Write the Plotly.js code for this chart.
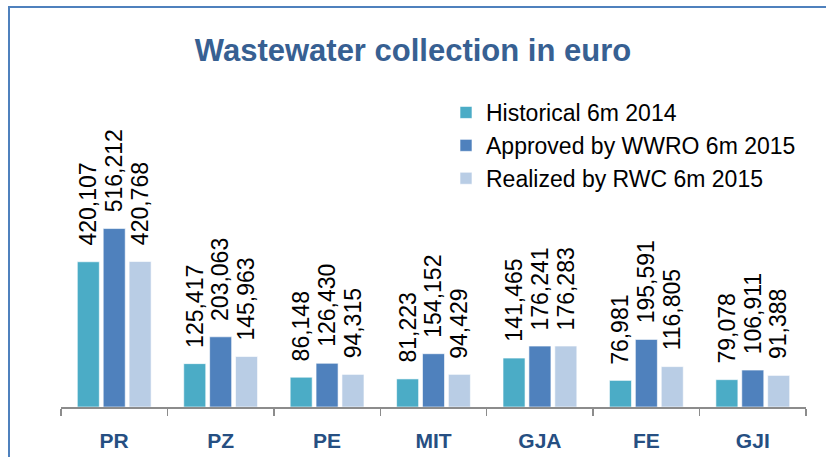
<!DOCTYPE html>
<html>
<head>
<meta charset="utf-8">
<script src="https://cdn.plot.ly/plotly-3.0.1.min.js"></script>
<style>html,body{margin:0;padding:0;background:#fff;}#chart{width:826px;height:457px;}</style>
</head>
<body>
<div id="chart"></div>
<script>
const categories = ["PR", "PZ", "PE", "MIT", "GJA", "FE", "GJI"];
const seriesNames = ["Historical 6m 2014", "Approved by WWRO 6m 2015", "Realized by RWC 6m 2015"];
const historical = [420107, 125417, 86148, 81223, 141465, 76981, 79078];
const approved = [516212, 203063, 126430, 154152, 176241, 195591, 106911];
const realized = [420768, 145963, 94315, 94429, 176283, 116805, 91388];

const seriesValues = [historical, approved, realized];
const colors = ["#4BACC6", "#4F81BD", "#B9CDE5"];

const W = 826, H = 457;
const margin = {l: 61, r: 20, t: 62, b: 50};
const plotW = W - margin.l - margin.r;
const plotH = H - margin.t - margin.b;
const px2x = p => (p - margin.l) / plotW;
const py2y = p => (H - margin.b - p) / plotH;

const bargap = 0.27;
const slot = (1 - bargap) / 3;

const traces = seriesValues.map((vals, k) => ({
  type: "bar",
  name: seriesNames[k],
  x: categories,
  y: vals,
  marker: {color: colors[k], line: {color: "rgba(255,255,255,0.6)", width: 1}},
  hoverinfo: "skip",
  legendgroup: "g" + k
}));

const fmt = v => v.toLocaleString("en-US");
const annotations = [];
seriesValues.forEach((vals, k) => {
  vals.forEach((v, i) => {
    annotations.push({
      x: i + (k - 1) * slot,
      y: v,
      xref: "x", yref: "y",
      text: fmt(v),
      textangle: -90,
      showarrow: false,
      xanchor: "center",
      yanchor: "bottom",
      yshift: 14,
      font: {family: "Liberation Sans, Arial, sans-serif", size: 23, color: "#000"}
    });
  });
});

const layout = {
  width: W, height: H,
  margin: margin,
  paper_bgcolor: "#fff",
  plot_bgcolor: "#fff",
  showlegend: true,
  title: {
    text: "<b>Wastewater collection in euro</b>",
    x: 0.5, xref: "container", xanchor: "center",
    y: 1 - 50 / H, yanchor: "middle",
    font: {family: "Liberation Sans, Arial, sans-serif", size: 31, color: "#376092"}
  },
  barmode: "group",
  bargap: bargap,
  bargroupgap: 0.15,
  xaxis: {
    type: "category",
    showline: true, linecolor: "#8c8c8c", linewidth: 1.5,
    ticks: "outside", tickson: "boundaries", ticklen: 7, tickcolor: "#8c8c8c", tickwidth: 1.5,
    showgrid: false, zeroline: false,
    tickfont: {family: "Liberation Sans, Arial, sans-serif", size: 21, color: "#264F82", weight: "bold"},
    ticklabelstandoff: 14
  },
  yaxis: {
    range: [0, 998000],
    visible: false,
    showgrid: false, zeroline: false
  },
  legend: {
    x: px2x(446), y: py2y(91), xanchor: "left", yanchor: "top",
    bgcolor: "rgba(0,0,0,0)",
    font: {family: "Liberation Sans, Arial, sans-serif", size: 23, color: "#000"},
    tracegroupgap: 5,
    traceorder: "normal"
  },
  annotations: annotations,
  shapes: [{
    type: "rect", xref: "paper", yref: "paper",
    x0: px2x(9), x1: px2x(840), y0: py2y(470), y1: py2y(7),
    line: {color: "#4F81BD", width: 2}, fillcolor: "rgba(0,0,0,0)", layer: "above"
  }]
};

Plotly.newPlot("chart", traces, layout, {displayModeBar: false, staticPlot: true});
</script>
</body>
</html>
